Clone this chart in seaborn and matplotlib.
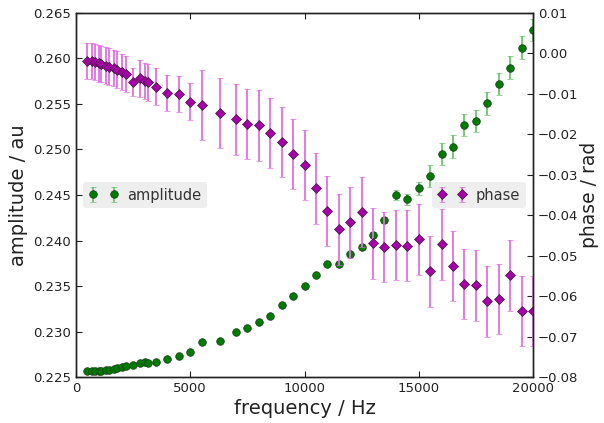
import matplotlib

matplotlib.use("agg")
import matplotlib.pyplot as plt
import seaborn as sns

# measured values
freq = [500, 700, 850, 1000, 1100, 1300, 1450, 1650, 1800, 2000, 2200, 2500,
        2800, 3000, 3150, 3500, 4000, 4500, 5000, 5500, 6300, 7000, 7500, 8000,
        8500, 9000, 9500, 10000, 10500, 11000, 11500, 12000, 12500, 13000,
        13500, 14000, 14500, 15000, 15500, 16000, 16500, 17000, 17500, 18000,
        18500, 19000, 19500, 20000]

amplitude = [0.2257, 0.2257, 0.2257, 0.2257, 0.2257, 0.2258, 0.22582, 0.2259,
             0.22596, 0.22613, 0.22621, 0.22632, 0.22654, 0.22668, 0.22654,
             0.22668, 0.22698, 0.22731, 0.22778, 0.22885, 0.22896, 0.22998,
             0.23039, 0.23104, 0.23174, 0.23291, 0.2339, 0.2350, 0.23618,
             0.23738, 0.23738, 0.23852, 0.2393, 0.24064, 0.24225, 0.2450,
             0.24453, 0.24575, 0.24709, 0.24951, 0.25031, 0.25269, 0.25313,
             0.25508, 0.2572, 0.25899, 0.26119, 0.26313]

amplitude_err = [0.00005] * 25 + [0.00015] * 5 + [0.00025] * 4 + [0.00035] + \
                [0.00058, 0.0006, 0.0007] + [0.00125] * 10

phase = [-0.0018, -0.00194, -0.00219, -0.00244, -0.00261, -0.00303, -0.00328,
         -0.00367, -0.00402, -0.00452, -0.00508, -0.00706, -0.00615, -0.00682,
         -0.00714, -0.00822, -0.00978, -0.0101, -0.01193, -0.01275, -0.0148,
         -0.01629, -0.01745, -0.01777, -0.01967, -0.02182, -0.02487, -0.02764,
         -0.03335, -0.03889, -0.04349, -0.04176, -0.03914, -0.04695, -0.04779,
         -0.04737, -0.04749, -0.04596, -0.05387, -0.0472, -0.05249, -0.05701,
         -0.05734, -0.06129, -0.06065, -0.05486, -0.06369, -0.06369]

phase_err = [0.0045] * 11 + [0.0035] + [0.0045] * 7 + [0.0087] * 29

# style
sns.set_theme(style="ticks")
plt.rcParams["font.family"] = ["DejaVu Sans"]
plt.rcParams["xtick.direction"] = "in"
plt.rcParams["ytick.direction"] = "in"
plt.rcParams["axes.edgecolor"] = "#222222"
plt.rcParams["axes.linewidth"] = 1.0

fig, ax1 = plt.subplots(figsize=(6.04, 4.23), dpi=100)
fig.subplots_adjust(left=0.1258, right=0.8825, top=0.9693, bottom=0.1087)
ax2 = ax1.twinx()

# amplitude on the left axis
ax1.errorbar(freq, amplitude, yerr=amplitude_err, fmt="o", color="#007a00",
             ecolor="#6cc46c", elinewidth=1.3, capsize=2.5, capthick=1.3,
             markersize=5.5, markeredgecolor="#1e3a1e", markeredgewidth=0.5,
             label="amplitude")

# phase on the right axis
ax2.errorbar(freq, phase, yerr=phase_err, fmt="D", color="#a800a8",
             ecolor="#e070e0", elinewidth=1.3, capsize=2.5, capthick=1.3,
             markersize=4.8, markeredgecolor="#3a1a3a", markeredgewidth=0.5,
             label="phase")

ax1.set_xlim(0, 20000)
ax1.set_ylim(0.225, 0.265)
ax2.set_ylim(-0.08, 0.01)
ax1.set_xticks([0, 5000, 10000, 15000, 20000])
ax1.set_yticks([0.225, 0.230, 0.235, 0.240, 0.245, 0.250, 0.255, 0.260, 0.265])
ax2.set_yticks([-0.08, -0.07, -0.06, -0.05, -0.04, -0.03, -0.02, -0.01, 0.00, 0.01])

ax1.tick_params(axis="both", labelsize=9.5, colors="#222222", length=4, width=0.8,
                top=True, right=False)
ax2.tick_params(axis="y", labelsize=9.5, colors="#222222", length=4, width=0.8)

ax1.set_xlabel("frequency / Hz", fontsize=14, color="#222222", labelpad=3)
ax1.set_ylabel("amplitude / au", fontsize=14, color="#222222", labelpad=4)
ax2.set_ylabel("phase / rad", fontsize=13.5, color="#222222", labelpad=1)

for ax, loc in [(ax1, "center left"), (ax2, "center right")]:
    leg = ax.legend(loc=loc, numpoints=2, fontsize=10.5, frameon=True,
                    facecolor="#eeeeee", edgecolor="none", framealpha=1.0,
                    handletextpad=0.6, borderpad=0.4)
    for t in leg.get_texts():
        t.set_color("#333333")

plt.savefig("out.png", dpi=100)
